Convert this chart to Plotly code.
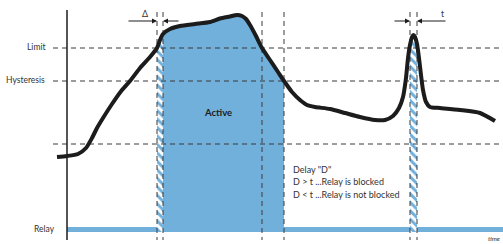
import numpy as np
import plotly.graph_objects as go

# ---------------- data (schematic, in chart units: x = time, y = signal, down = low) -------------
curve_t = [57, 67, 78, 86, 92, 97, 103, 112, 122, 130, 140, 150, 157, 160, 163, 170, 180, 195, 210,
           220, 230, 237, 242, 246, 250, 256, 262, 270, 278, 284, 292, 300, 307, 315, 330, 345, 360,
           375, 385, 393, 399, 403, 406, 408, 410, 412, 413.5, 415, 417, 419, 421, 423, 426, 430,
           440, 460, 480, 495]
curve_v = [157, 156, 154, 148, 138, 128, 118, 104, 90, 81, 68, 57, 48, 40, 34, 29, 26, 24, 22,
           18.5, 16.5, 15, 16, 19, 25, 36, 48, 60, 72, 81, 92, 100, 105, 107, 109, 113, 117,
           120, 120, 116, 108, 97, 78, 58, 45, 37, 35, 37, 44, 58, 75, 90, 102, 107,
           108, 110, 113, 121]

level_names = ["Limit", "Hysteresis", ""]
level_values = [48, 81, 144]

switch_times = [157, 163, 262, 284, 410, 417]   # vertical markers
active_span = [163, 284]
delay_spans = [[157, 163], [410, 417]]

relay_level = 229.5
relay_span = [67, 503]

note_lines = ['Delay "D"', "D > t ...Relay is blocked", "D < t ...Relay is not blocked"]

BLUE = "#72B0DC"
DARK = "#1c1c1c"
GRID = "#3a3a3a"
FONT = "Lato"
TXT = "#333333"

fig = go.Figure()

ct = np.array(curve_t, float)
cv = np.array(curve_v, float)


def region(x0, x1):
    m = (ct > x0) & (ct < x1)
    xs = [x0] + list(ct[m]) + [x1]
    ys = [float(np.interp(x0, ct, cv))] + list(cv[m]) + [float(np.interp(x1, ct, cv))]
    xs = xs + [x1, x0]
    ys = ys + [relay_level + 2.5, relay_level + 2.5]
    return xs, ys


# relay bar
fig.add_trace(go.Scatter(x=relay_span, y=[relay_level, relay_level], mode="lines",
                         line=dict(color=BLUE, width=5), hoverinfo="skip"))

# active region
xs, ys = region(*active_span)
fig.add_trace(go.Scatter(x=xs, y=ys, mode="lines", fill="toself", fillcolor=BLUE,
                         line=dict(width=0, color=BLUE), hoverinfo="skip"))

# hatched delay regions
for x0, x1 in delay_spans:
    xs, ys = region(x0, x1)
    fig.add_trace(go.Scatter(x=xs, y=ys, mode="lines", fill="toself", fillcolor=BLUE,
                             fillpattern=dict(shape="\\", fgcolor="#ffffff", bgcolor=BLUE,
                                              size=6, solidity=0.5, fillmode="replace"),
                             line=dict(width=0, color=BLUE), hoverinfo="skip"))

# horizontal dashed levels
for v in level_values:
    fig.add_trace(go.Scatter(x=[53, 503], y=[v, v], mode="lines",
                             line=dict(color=GRID, width=1, dash="5px,4px"), hoverinfo="skip"))

# vertical dashed markers
for t in switch_times:
    fig.add_trace(go.Scatter(x=[t, t], y=[12, 240], mode="lines",
                             line=dict(color=GRID, width=1, dash="5px,4px"), hoverinfo="skip"))

# y axis line
fig.add_trace(go.Scatter(x=[67, 67], y=[10, 240], mode="lines",
                         line=dict(color=DARK, width=1.5), hoverinfo="skip"))

# signal curve
fig.add_trace(go.Scatter(x=curve_t, y=curve_v, mode="lines",
                         line=dict(color=DARK, width=4, shape="spline", smoothing=0.6),
                         hoverinfo="skip"))

ann = []
for name, v in zip(level_names, level_values):
    if name:
        ann.append(dict(x=47, y=v - 1, text=name, showarrow=False, xanchor="right",
                        font=dict(family=FONT, size=8.5, color=TXT)))
ann.append(dict(x=57, y=relay_level - 1, text="Relay", showarrow=False, xanchor="right",
                font=dict(family=FONT, size=8.5, color=TXT)))
ann.append(dict(x=218, y=112, text="<b>Active</b>", showarrow=False,
                font=dict(family=FONT, size=9.5, color=DARK)))
for i, line in enumerate(note_lines):
    ann.append(dict(x=291, y=169 + 12.5 * i, text=line, showarrow=False, xanchor="left",
                    font=dict(family=FONT, size=9, color=TXT)))
ann.append(dict(x=145, y=13, text="Δ", showarrow=False,
                font=dict(family=FONT, size=9, color=TXT)))
ann.append(dict(x=442, y=14, text="t", showarrow=False,
                font=dict(family=FONT, size=8.5, color=TXT)))
ann.append(dict(x=502, y=238, text="<i>time</i>", showarrow=False, xanchor="right",
                yanchor="middle", font=dict(family=FONT, size=6.5, color=TXT)))

# dimension arrows
for head, tail in [(157, 127), (163, 180), (410, 393), (417, 447)]:
    ann.append(dict(x=head, y=21, ax=tail, ay=21, axref="x", ayref="y", xref="x", yref="y",
                    showarrow=True, arrowhead=2, arrowsize=1, arrowwidth=1,
                    arrowcolor=DARK, text=""))

fig.update_layout(
    width=503, height=244, margin=dict(l=0, r=0, t=0, b=0),
    paper_bgcolor="white", plot_bgcolor="white", showlegend=False,
    xaxis=dict(range=[0, 503], visible=False, fixedrange=True),
    yaxis=dict(range=[244, 0], visible=False, fixedrange=True),
    annotations=ann,
)

fig.write_html("out.html", config={"displayModeBar": False},
               post_script="document.body.style.margin='0';document.body.style.padding='0';"
                           "document.documentElement.style.overflow='hidden';")
